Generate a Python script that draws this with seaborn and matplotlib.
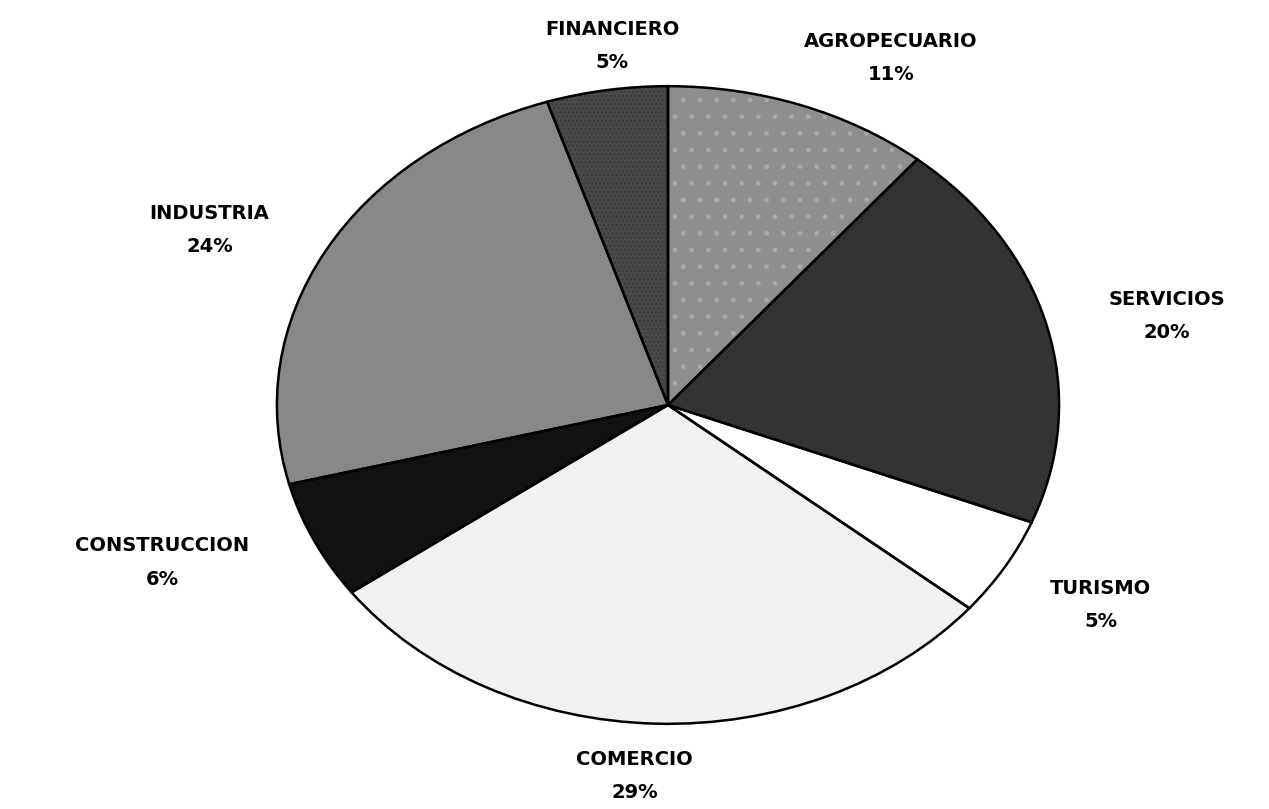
import matplotlib
matplotlib.use("Agg")
import matplotlib.pyplot as plt
import seaborn as sns

# ---- data ----
sectors = ["AGROPECUARIO", "SERVICIOS", "TURISMO", "COMERCIO",
           "CONSTRUCCION", "INDUSTRIA", "FINANCIERO"]
shares = [11, 20, 5, 29, 6, 24, 5]
pct_labels = ["11%", "20%", "5%", "29%", "6%", "24%", "5%"]

# ---- styles ----
fill_colors = ["#8e8e8e", "#333333", "#ffffff", "#f1f1f1",
               "#111111", "#888888", "#4a4a4a"]
hatch_colors = ["#a8a8a8", None, None, None, None, None, "#3a3a3a"]
hatches = [".", None, None, None, None, None, "...."]
# label anchor positions in axis units (layout only)
label_xy = [(0.57, 1.087), (1.276, 0.28), (1.106, -0.627), (-0.086, -1.165),
            (-1.294, -0.494), (-1.172, 0.55), (-0.142, 1.127)]

sns.set_theme(style="white")
plt.rcParams["font.family"] = ["DejaVu Sans"]

fig = plt.figure(figsize=(12.69, 8.09), dpi=100)
fig.patch.set_facecolor("white")
ax = fig.add_axes([273 / 1269, (809 - 727) / 809, 790 / 1269, 644 / 809])

# base fill
ax.pie(shares, colors=fill_colors, startangle=90, counterclock=False,
       wedgeprops=dict(edgecolor="none", linewidth=0))

# texture layer
tex, _ = ax.pie(shares, colors=["none"] * len(shares), startangle=90,
                counterclock=False,
                wedgeprops=dict(linewidth=0))
for w, h, hc in zip(tex, hatches, hatch_colors):
    if h is None:
        w.set_visible(False)
    else:
        w.set_facecolor("none")
        w.set_edgecolor(hc)
        w.set_hatch(h)
        w.set_linewidth(0)

# outlines
edges, _ = ax.pie(shares, startangle=90, counterclock=False,
                  wedgeprops=dict(facecolor="none", edgecolor="black",
                                  linewidth=1.8))
for w in edges:
    w.set_facecolor("none")

ax.set_aspect("auto")
ax.set_xlim(-1.01, 1.01)
ax.set_ylim(-1.01, 1.01)
ax.axis("off")

for name, pct, (x, y) in zip(sectors, pct_labels, label_xy):
    ax.annotate(name, (x, y), xytext=(0, 11.9), textcoords="offset points",
                ha="center", va="center", fontsize=14, fontweight="heavy",
                color="black", annotation_clip=False)
    ax.annotate(pct, (x, y), xytext=(0, -11.9), textcoords="offset points",
                ha="center", va="center", fontsize=14, fontweight="heavy",
                color="black", annotation_clip=False)

fig.savefig("out.png", dpi=100, facecolor="white")
